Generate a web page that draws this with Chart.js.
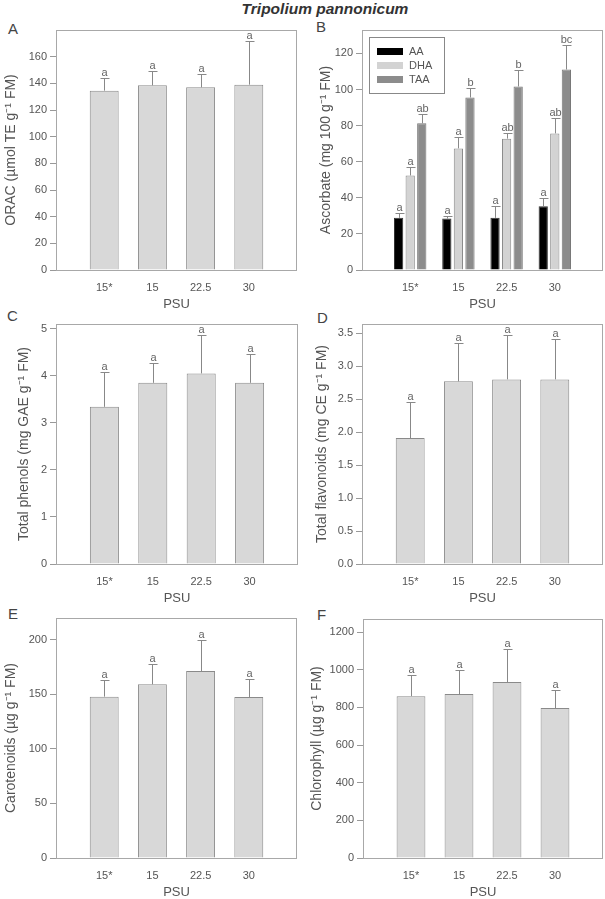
<!DOCTYPE html>
<html>
<head>
<meta charset="utf-8">
<script src="https://cdn.jsdelivr.net/npm/chart.js@4.4.1/dist/chart.umd.min.js"></script>
<style>
  body { margin: 0; background: #fff; width: 605px; height: 899px; position: relative; overflow: hidden;
         font-family: "Liberation Sans", Arial, sans-serif; }
  canvas { position: absolute; }
  .tag { position: absolute; color: #444; font-size: 15px; line-height: 1; }
  #title { position: absolute; left: 200px; width: 250px; top: 0px; text-align: center;
           font-weight: bold; font-style: italic; font-size: 15.5px; color: #333; }
</style>
</head>
<body>
<div id="title">Tripolium pannonicum</div>
<div class="tag" style="left:8px;top:21px">A</div>
<div class="tag" style="left:316px;top:19px">B</div>
<div class="tag" style="left:7px;top:308px">C</div>
<div class="tag" style="left:317px;top:310px">D</div>
<div class="tag" style="left:8px;top:606px">E</div>
<div class="tag" style="left:317px;top:607px">F</div>
<script>
const psu = ["15*", "15", "22.5", "30"];

const oracMean = [134.5, 138.5, 137, 139];
const oracSd = [9.7, 11, 10, 32.5];
const oracLetters = ["a", "a", "a", "a"];

const aaMean = [28.9, 28.5, 28.9, 35.3];
const aaSd = [2.8, 1.7, 6.4, 4.5];
const aaLetters = ["a", "a", "a", "a"];
const dhaMean = [52.4, 67.4, 72.8, 75.7];
const dhaSd = [4.8, 6.5, 3.3, 8.7];
const dhaLetters = ["a", "a", "ab", "ab"];
const taaMean = [81.3, 95.6, 101.7, 111.1];
const taaSd = [5.4, 5.0, 9.2, 13.5];
const taaLetters = ["ab", "b", "b", "bc"];

const phenolMean = [3.34, 3.85, 4.05, 3.85];
const phenolSd = [0.74, 0.43, 0.81, 0.62];
const phenolLetters = ["a", "a", "a", "a"];

const flavMean = [1.91, 2.77, 2.8, 2.8];
const flavSd = [0.55, 0.58, 0.67, 0.62];
const flavLetters = ["a", "a", "a", "a"];

const caroMean = [147.9, 159.2, 171.4, 147.6];
const caroSd = [14.9, 18.3, 28.6, 16.4];
const caroLetters = ["a", "a", "a", "a"];

const chlMean = [860, 871, 935, 797];
const chlSd = [110, 129, 177, 98];
const chlLetters = ["a", "a", "a", "a"];

const textColor = "#555";
const fontFamily = "'Liberation Sans', Arial, sans-serif";

const framePlugin = {
  id: "frame",
  afterDraw(chart) {
    const { ctx, chartArea: a } = chart;
    ctx.save();
    ctx.strokeStyle = "#a8a8a8";
    ctx.lineWidth = 1;
    ctx.strokeRect(Math.round(a.left) + 0.5, Math.round(a.top) + 0.5,
      Math.round(a.right - a.left) - 1, Math.round(a.bottom - a.top));
    ctx.restore();
  },
};

const errorPlugin = {
  id: "errors",
  afterDatasetsDraw(chart) {
    const ctx = chart.ctx;
    const yScale = chart.scales.y;
    ctx.save();
    chart.data.datasets.forEach((ds, d) => {
      const meta = chart.getDatasetMeta(d);
      meta.data.forEach((bar, i) => {
        const top = yScale.getPixelForValue(ds.data[i].y + ds.sd[i]);
        const x = Math.round(bar.x) + 0.5;
        const yt = Math.round(top) + 0.5;
        ctx.strokeStyle = "#888";
        ctx.lineWidth = 1;
        ctx.beginPath();
        ctx.moveTo(x, bar.y);
        ctx.lineTo(x, yt);
        ctx.moveTo(x - 4, yt);
        ctx.lineTo(x + 5, yt);
        ctx.stroke();
        ctx.fillStyle = "#666";
        ctx.font = "11px " + fontFamily;
        ctx.textAlign = "center";
        ctx.textBaseline = "alphabetic";
        ctx.fillText(ds.letters[i], x, yt - 3);
      });
    });
    ctx.restore();
  },
};

const boxLegendPlugin = {
  id: "boxLegend",
  afterDraw(chart, args, opts) {
    if (!opts.show) return;
    const { ctx, chartArea: a } = chart;
    const left = Math.round(a.left) + 7;
    const top = Math.round(a.top) + 7;
    ctx.save();
    ctx.strokeStyle = "#888";
    ctx.lineWidth = 1;
    ctx.strokeRect(left + 0.5, top + 0.5, 75, 56);
    chart.data.datasets.forEach((ds, i) => {
      const cy = top + 14 + i * 14;
      ctx.fillStyle = ds.backgroundColor;
      ctx.fillRect(left + 8, cy - 3, 26, 7);
      ctx.fillStyle = textColor;
      ctx.font = "11px " + fontFamily;
      ctx.textAlign = "left";
      ctx.textBaseline = "middle";
      ctx.fillText(ds.label, left + 40, cy + 1);
    });
    ctx.restore();
  },
};

function panel(cfg) {
  const box = cfg.box;
  const a = cfg.area;
  const c = document.createElement("canvas");
  c.width = box.w;
  c.height = box.h;
  c.style.left = box.x + "px";
  c.style.top = box.y + "px";
  document.body.appendChild(c);

  new Chart(c, {
    type: "bar",
    data: {
      datasets: cfg.series.map((s) => ({
        label: s.label,
        data: s.mean.map((v, i) => ({ x: i + 1, y: v })),
        sd: s.sd,
        letters: s.letters,
        backgroundColor: s.color,
        borderColor: s.border,
        borderWidth: 1,
        categoryPercentage: cfg.catPct,
        barPercentage: cfg.barPct,
      })),
    },
    options: {
      responsive: false,
      animation: false,
      layout: { padding: { top: a.t - box.y, right: box.x + box.w - a.r, left: 0, bottom: 0 } },
      plugins: {
        legend: { display: false },
        tooltip: { enabled: false },
        boxLegend: { show: !!cfg.legend },
      },
      scales: {
        x: {
          type: "linear",
          min: 0,
          max: 5,
          offset: false,
          grid: { display: false, offset: false },
          border: { display: false },
          ticks: {
            stepSize: 1,
            autoSkip: false,
            maxRotation: 0,
            padding: 3,
            color: textColor,
            font: { size: 11, family: fontFamily },
            callback: (v) => psu[v - 1] ?? null,
          },
          title: {
            display: true,
            text: "PSU",
            color: textColor,
            font: { size: 13, family: fontFamily },
            padding: { top: 0, bottom: box.y + box.h - (a.b + 34) - 7.8 },
          },
          afterFit: (s) => { s.height = box.y + box.h - a.b; },
        },
        y: {
          min: 0,
          max: cfg.yMax,
          grid: { drawOnChartArea: false, tickLength: 6, color: "#999" },
          border: { display: false },
          ticks: {
            stepSize: cfg.yStep,
            includeBounds: false,
            padding: 3,
            color: textColor,
            font: { size: 11, family: fontFamily },
            callback: (v) => (v > cfg.yLast + cfg.yStep * 0.01 ? null : cfg.fmt(v)),
          },
          title: {
            display: true,
            text: cfg.yTitle,
            color: textColor,
            font: { size: 14, family: fontFamily },
            padding: { top: cfg.yTitleX - box.x - 8.4, bottom: 0 },
          },
          afterFit: (s) => { s.width = a.l - box.x; },
        },
      },
    },
    plugins: [framePlugin, errorPlugin, boxLegendPlugin],
  });
}

const barFill = "#d8d8d8";
const barLine = "#8a8a8a";
const int = (v) => String(Math.round(v));
const one = (v) => v.toFixed(1);

panel({
  box: { x: 0, y: 0, w: 300, h: 320 },
  area: { l: 56, t: 30, r: 297, b: 270 },
  yTitleX: 11, yTitle: "ORAC (µmol TE g⁻¹ FM)",
  yMax: 180, yStep: 20, yLast: 160, fmt: int,
  catPct: 0.6, barPct: 1,
  series: [{ label: "ORAC", mean: oracMean, sd: oracSd, letters: oracLetters, color: barFill, border: barLine }],
});

panel({
  box: { x: 303, y: 0, w: 302, h: 320 },
  area: { l: 362, t: 30, r: 603, b: 270 },
  yTitleX: 326, yTitle: "Ascorbate (mg 100 g⁻¹ FM)",
  yMax: 133, yStep: 20, yLast: 120, fmt: int,
  catPct: 0.72, barPct: 0.8, legend: true,
  series: [
    { label: "AA", mean: aaMean, sd: aaSd, letters: aaLetters, color: "#000000", border: "#333" },
    { label: "DHA", mean: dhaMean, sd: dhaSd, letters: dhaLetters, color: "#d3d3d3", border: barLine },
    { label: "TAA", mean: taaMean, sd: taaSd, letters: taaLetters, color: "#8c8c8c", border: "#777" },
  ],
});

panel({
  box: { x: 0, y: 294, w: 300, h: 320 },
  area: { l: 56, t: 324, r: 298, b: 564 },
  yTitleX: 24.5, yTitle: "Total phenols (mg GAE g⁻¹ FM)",
  yMax: 5.1, yStep: 1, yLast: 5, fmt: int,
  catPct: 0.6, barPct: 1,
  series: [{ label: "Phenols", mean: phenolMean, sd: phenolSd, letters: phenolLetters, color: barFill, border: barLine }],
});

panel({
  box: { x: 303, y: 294, w: 302, h: 320 },
  area: { l: 362, t: 324, r: 603, b: 564 },
  yTitleX: 322.5, yTitle: "Total flavonoids (mg CE g⁻¹ FM)",
  yMax: 3.64, yStep: 0.5, yLast: 3.5, fmt: one,
  catPct: 0.6, barPct: 1,
  series: [{ label: "Flavonoids", mean: flavMean, sd: flavSd, letters: flavLetters, color: barFill, border: barLine }],
});

panel({
  box: { x: 0, y: 588, w: 300, h: 320 },
  area: { l: 56, t: 618, r: 297, b: 858 },
  yTitleX: 11.5, yTitle: "Carotenoids (µg g⁻¹ FM)",
  yMax: 220, yStep: 50, yLast: 200, fmt: int,
  catPct: 0.6, barPct: 1,
  series: [{ label: "Carotenoids", mean: caroMean, sd: caroSd, letters: caroLetters, color: barFill, border: barLine }],
});

panel({
  box: { x: 303, y: 588, w: 302, h: 320 },
  area: { l: 363, t: 619, r: 603, b: 858 },
  yTitleX: 317, yTitle: "Chlorophyll (µg g⁻¹ FM)",
  yMax: 1270, yStep: 200, yLast: 1200, fmt: int,
  catPct: 0.6, barPct: 1,
  series: [{ label: "Chlorophyll", mean: chlMean, sd: chlSd, letters: chlLetters, color: barFill, border: barLine }],
});
</script>
</body>
</html>
